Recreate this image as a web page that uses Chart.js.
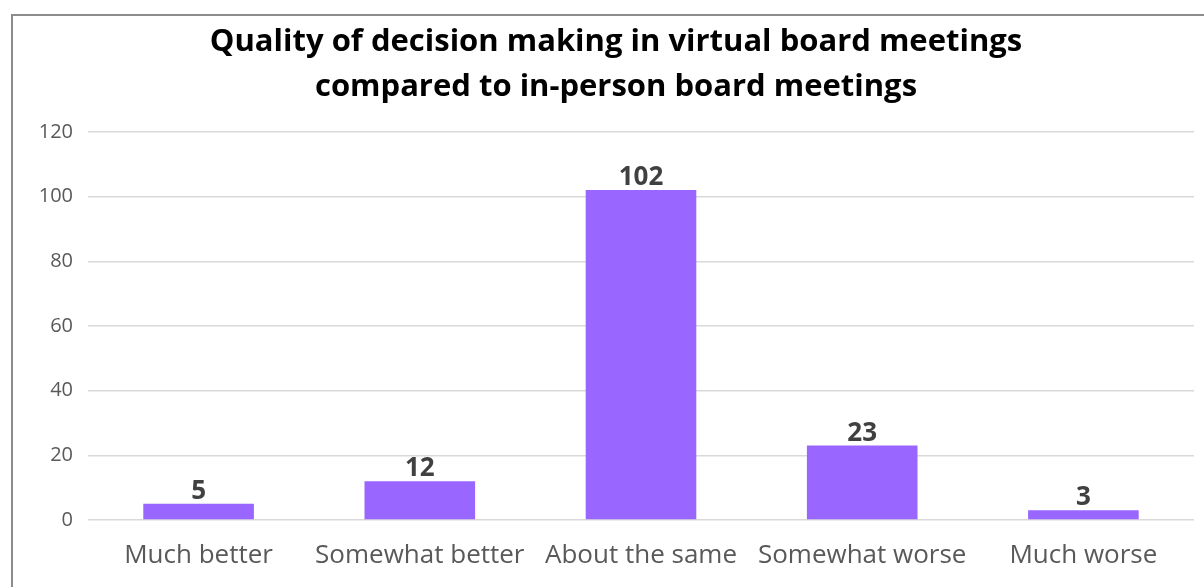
<!DOCTYPE html>
<html>
<head>
<meta charset="utf-8">
<script src="https://cdn.jsdelivr.net/npm/chart.js@4"></script>
<style>
  html, body { margin: 0; padding: 0; background: #fff; overflow: hidden; }
  #frame { position: absolute; left: 11px; top: 14px; width: 1220px; height: 600px; border: 2px solid #8c8c8c; box-sizing: border-box; }
  #wrap { position: absolute; left: 0; top: 0; width: 1204px; height: 587px; }
</style>
</head>
<body>
<div id="frame"></div>
<div id="wrap"><canvas id="c" width="1204" height="587"></canvas></div>
<script>
const categories = ["Much better", "Somewhat better", "About the same", "Somewhat worse", "Much worse"];
const counts = [5, 12, 102, 23, 3];
const yTicks = [0, 20, 40, 60, 80, 100, 120];
const titleLines = ["Quality of decision making in virtual board meetings", "compared to in-person board meetings"];

const FONT = "'Open Sans', Lato, 'Liberation Sans', sans-serif";

const valueLabels = {
  id: 'valueLabels',
  afterDatasetsDraw(chart) {
    const ctx = chart.ctx;
    const meta = chart.getDatasetMeta(0);
    ctx.save();
    ctx.font = "bold 26px " + FONT;
    ctx.fillStyle = "#404040";
    ctx.textAlign = "center";
    ctx.textBaseline = "alphabetic";
    meta.data.forEach((bar, i) => {
      ctx.fillText(String(chart.data.datasets[0].data[i]), bar.x, bar.y - 5);
    });
    ctx.restore();
  }
};

new Chart(document.getElementById('c'), {
  type: 'bar',
  data: {
    labels: categories,
    datasets: [{
      data: counts,
      backgroundColor: '#9966FF',
      borderWidth: 0,
      categoryPercentage: 1.0,
      barPercentage: 0.5
    }]
  },
  options: {
    responsive: false,
    animation: false,
    devicePixelRatio: 1,
    layout: { padding: { top: 20, right: 10, bottom: 0, left: 38 } },
    plugins: {
      legend: { display: false },
      tooltip: { enabled: false },
      title: {
        display: true,
        text: titleLines,
        color: '#000000',
        font: { family: FONT, size: 31, weight: 'bold', lineHeight: 1.45 },
        padding: { top: 0, bottom: 22 }
      }
    },
    scales: {
      x: {
        grid: { display: false, drawTicks: false },
        border: { display: false },
        ticks: { color: '#595959', font: { family: FONT, size: 26 }, padding: 20, maxRotation: 0, autoSkip: false },
        afterFit(scale) { scale.height = 67; }
      },
      y: {
        min: 0, max: 120,
        afterBuildTicks(scale) { scale.ticks = yTicks.map(v => ({ value: v })); },
        grid: { color: '#d9d9d9', lineWidth: 1.5, drawTicks: false },
        border: { display: false },
        ticks: { color: '#595959', font: { family: FONT, size: 20 }, padding: 15 },
        afterFit(scale) { scale.width = 50; }
      }
    }
  },
  plugins: [valueLabels]
});
</script>
</body>
</html>
